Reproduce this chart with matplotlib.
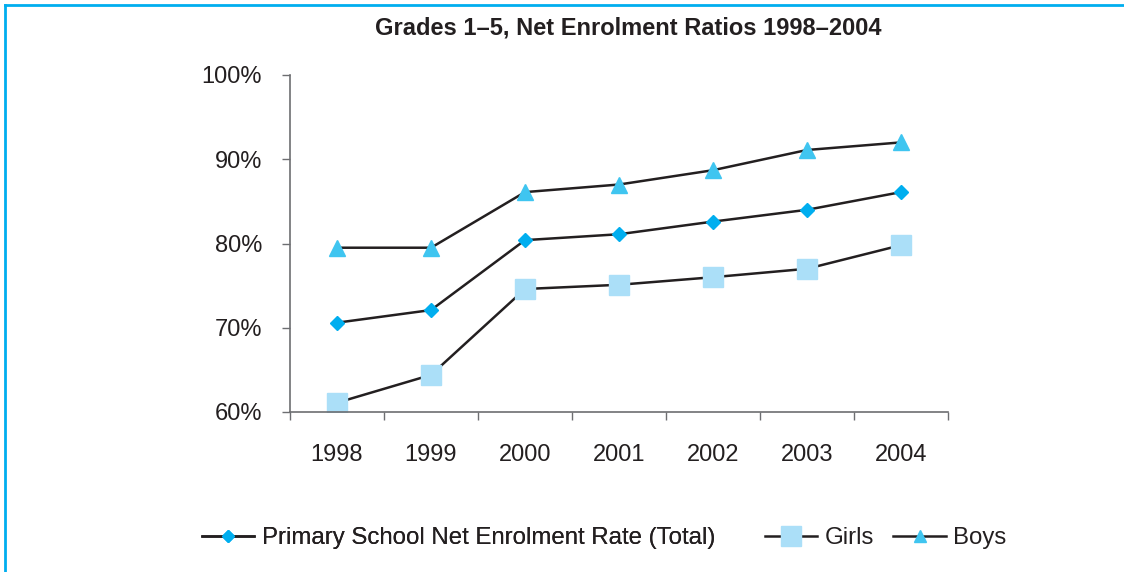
import matplotlib.pyplot as plt
from matplotlib.lines import Line2D
from matplotlib.ticker import PercentFormatter

plt.rcParams['font.family'] = ['Liberation Sans', 'DejaVu Sans']

# --- Daten ---
jahre = ['1998', '1999', '2000', '2001', '2002', '2003', '2004']
gesamt = [70.6, 72.1, 80.4, 81.1, 82.6, 84.0, 86.1]
maedchen = [61.1, 64.4, 74.6, 75.1, 76.0, 77.0, 79.8]
jungen = [79.5, 79.5, 86.1, 87.0, 88.7, 91.1, 92.0]

textfarbe = '#231f20'
linienfarbe = '#231f20'
blau = '#00aeef'
hellblau = '#abdff8'
tuerkis = '#3fc5f0'

fig = plt.figure(figsize=(11.24, 5.72), dpi=100)
ax = fig.add_axes([290 / 1124, 1 - 412 / 572, 658 / 1124, 337 / 572])

x = range(len(jahre))
ax.plot(x, gesamt, color=linienfarbe, lw=1.8, marker='D', ms=7.2, mfc=blau, mec=blau)
ax.plot(x, maedchen, color=linienfarbe, lw=1.8, marker='s', ms=14, mfc=hellblau, mec=hellblau)
ax.plot(x, jungen, color=linienfarbe, lw=1.8, marker='^', ms=11, mfc=tuerkis, mec=tuerkis)

# --- Achsen ---
ax.set_xlim(-0.5, 6.5)
ax.set_ylim(60, 100)
ax.set_yticks([60, 70, 80, 90, 100])
ax.yaxis.set_major_formatter(PercentFormatter(decimals=0))
ax.set_xticks([i - 0.5 for i in range(8)])
ax.set_xticklabels([])
ax.set_xticks(list(x), minor=True)
ax.set_xticklabels(jahre, minor=True)
ax.tick_params(axis='x', which='major', direction='out', length=6, width=1, color='#6d6e71')
ax.tick_params(axis='x', which='minor', length=0, pad=23, labelsize=17, labelcolor=textfarbe)
ax.tick_params(axis='y', direction='out', length=6, width=1, color='#6d6e71',
               pad=14, labelsize=17, labelcolor=textfarbe)
for s in ['top', 'right']:
    ax.spines[s].set_visible(False)
for s in ['left', 'bottom']:
    ax.spines[s].set_color('#6d6e71')
    ax.spines[s].set_linewidth(1.2)

# --- Titel ---
fig.text(628 / 1124, 1 - 28 / 572, 'Grades 1–5, Net Enrolment Ratios 1998–2004',
         ha='center', va='center', fontsize=17, fontweight='bold', color=textfarbe)

# --- Legende (zwei Teile wegen unterschiedlicher Abstände) ---
h_ges = Line2D([], [], color=linienfarbe, lw=1.8, marker='D', ms=6, mfc=blau, mec=blau,
               label='Primary School Net Enrolment Rate (Total)')
h_mae = Line2D([], [], color=linienfarbe, lw=1.8, marker='s', ms=14, mfc=hellblau, mec=hellblau,
               label='Girls')
h_jun = Line2D([], [], color=linienfarbe, lw=1.8, marker='^', ms=8, mfc=tuerkis, mec=tuerkis,
               label='Boys')

leg1 = fig.legend(handles=[h_ges], loc='center left', bbox_to_anchor=(180 / 1124, 1 - 538 / 572),
                  frameon=False, fontsize=17.3, handlelength=2.2, handletextpad=0.3,
                  labelcolor=textfarbe)
fig.add_artist(leg1)
fig.legend(handles=[h_mae, h_jun], loc='center left', bbox_to_anchor=(743 / 1124, 1 - 538 / 572),
           frameon=False, fontsize=17.3, ncol=2, handlelength=2.2, handletextpad=0.3,
           columnspacing=0.8, labelcolor=textfarbe)

# --- Rahmen oben und links ---
fig.add_artist(Line2D([5 / 1124, 5 / 1124], [0, 1 - 5 / 572], transform=fig.transFigure,
                      color=blau, lw=2))
fig.add_artist(Line2D([5 / 1124, 1], [1 - 5 / 572, 1 - 5 / 572], transform=fig.transFigure,
                      color=blau, lw=2))

fig.savefig('out.png', dpi=100)
